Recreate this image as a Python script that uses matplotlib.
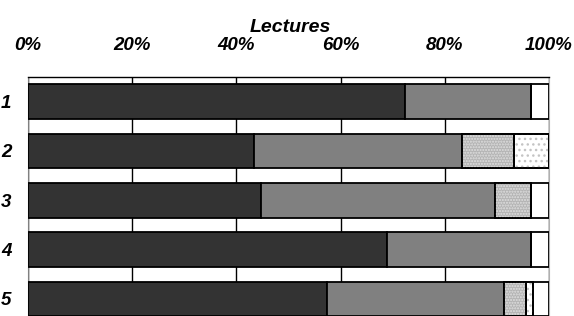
import matplotlib
matplotlib.use("Agg")
import matplotlib.pyplot as plt
import numpy as np

plt.rcParams['font.family'] = ['Liberation Sans', 'DejaVu Sans']
plt.rcParams['hatch.linewidth'] = 1.0

categories = ["1", "2", "3", "4", "5"]
s_dark = [72.4, 43.3, 44.8, 69.0, 57.3]
s_gray = [24.2, 40.0, 44.8, 27.6, 34.1]
s_dense = [0.0, 10.0, 7.0, 0.0, 4.1]
s_sparse = [0.0, 6.7, 0.0, 0.0, 1.5]
s_white = [3.4, 0.0, 3.4, 3.4, 3.0]
xtick_vals = [0, 20, 40, 60, 80, 100]
xtick_labels = ["0%", "20%", "40%", "60%", "80%", "100%"]
title = "Lectures"

W, H = 574, 316
fig = plt.figure(figsize=(W / 100, H / 100), dpi=100)
ax = fig.add_axes([28 / W, -7.5 / H, (549 - 28) / W, (323.5 - 77) / H])

y = np.arange(len(categories))
series = [
    (s_dark, "#333333", None, None),
    (s_gray, "#808080", None, None),
    (s_dense, "#b4b4b4", "......", "#e0e0e0"),
    (s_sparse, "white", "...", "#c4c4c4"),
    (s_white, "white", None, None),
]
left = np.zeros(len(categories))
for vals, fc, hatch, hc in series:
    vals = np.array(vals)
    ax.barh(y, vals, left=left, height=0.7, color=fc,
            edgecolor="black", linewidth=1.3, zorder=3)
    if hatch is not None:
        ax.barh(y, vals, left=left, height=0.7, color="none",
                edgecolor=hc, hatch=hatch, linewidth=0, zorder=4)
        ax.barh(y, vals, left=left, height=0.7, color="none",
                edgecolor="black", linewidth=1.3, zorder=5)
    left = left + vals

ax.set_xlim(0, 100)
ax.set_ylim(4.5, -0.5)
ax.xaxis.tick_top()
ax.set_xticks(xtick_vals)
ax.set_xticklabels(xtick_labels, fontsize=13.5, fontweight="bold", fontstyle="italic")
ax.tick_params(axis="x", length=0, pad=16.5)
ax.set_yticks(y)
ax.set_yticklabels(categories, fontsize=13.5, fontweight="bold", fontstyle="italic")
ax.tick_params(axis="y", length=0, pad=12)
ax.grid(axis="x", color="black", linewidth=1.0, zorder=0)
ax.set_axisbelow(True)
ax.spines["top"].set_color("black")
ax.spines["top"].set_linewidth(1.0)
ax.spines["left"].set_color("#808080")
ax.spines["right"].set_color("#b0b0b0")
ax.spines["bottom"].set_visible(False)

fig.text(290 / W, 1 - 27 / H, title, ha="center", va="center", fontsize=14,
         fontweight="bold", fontstyle="italic")

fig.savefig("out.png", dpi=100)
